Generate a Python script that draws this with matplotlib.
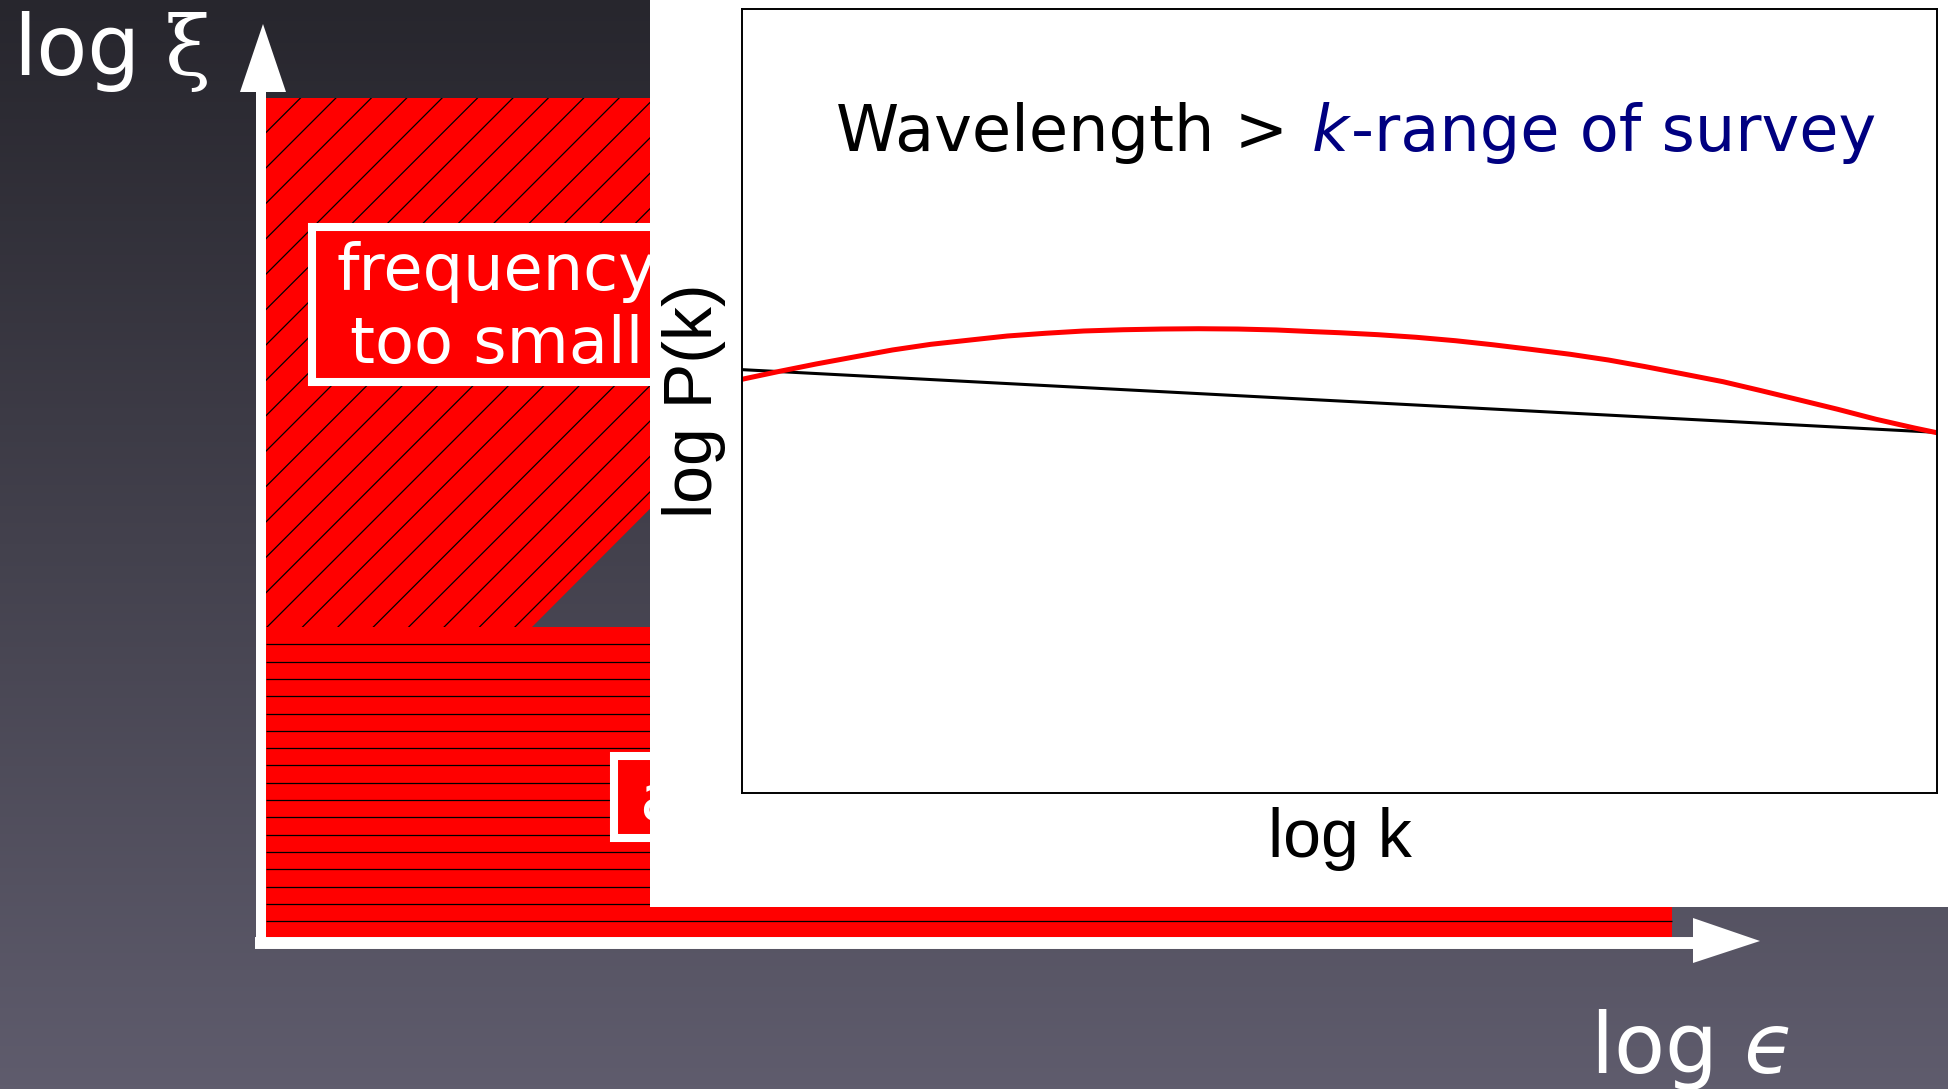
import numpy as np
import matplotlib
matplotlib.use("Agg")
import matplotlib.pyplot as plt
from matplotlib.colors import LinearSegmentedColormap
from matplotlib.patches import Polygon, Rectangle

# inset: toy power spectra, log-log, arbitrary units (no ticks in the original)
logk = [0.0, 0.030, 0.062, 0.095, 0.126, 0.158, 0.191, 0.222, 0.254, 0.286,
        0.319, 0.351, 0.382, 0.415, 0.447, 0.479, 0.500, 0.532, 0.564, 0.597,
        0.628, 0.660, 0.693, 0.725, 0.756, 0.788, 0.821, 0.853, 0.885, 0.917,
        0.949, 0.981, 1.0]
logP_model = [0.5277, 0.5374, 0.5472, 0.5565, 0.5651, 0.5723, 0.5778, 0.5829,
              0.5864, 0.5893, 0.5909, 0.5918, 0.5922, 0.5918, 0.5906, 0.5884,
              0.5871, 0.5846, 0.5813, 0.5769, 0.5718, 0.5659, 0.5596, 0.5523,
              0.5438, 0.5344, 0.5246, 0.5131, 0.5013, 0.4894, 0.4767, 0.4656,
              0.4595]
logk_pl = [0.0, 1.0]
logP_pl = [0.540, 0.460]

# excluded regions of the (log eps, log xi) plane, in canvas units (y down)
freq_region = [(266, 98), (1060, 98), (532, 627), (266, 627)]
amp_region = [(266, 627), (1672, 627), (1672, 937), (266, 937)]
freq_label = ["frequency", "too small"]
amp_label = "amplitude too small"

W, H = 1948, 1089
fig = plt.figure(figsize=(W / 100, H / 100), dpi=100)
ax = fig.add_axes([0, 0, 1, 1])

bg = LinearSegmentedColormap.from_list("bg", ["#27262d", "#5f5c6d"])
ax.imshow(np.linspace(0, 1, 256)[:, None], cmap=bg, aspect="auto",
          extent=(0, W, H, 0), zorder=0)
ax.set_xlim(0, W)
ax.set_ylim(H, 0)
ax.axis("off")

# axes arrows
ax.plot([261, 261], [943, 90], color="white", lw=7.2, solid_capstyle="butt", zorder=1)
ax.plot([255, 1695], [943, 943], color="white", lw=8.6, solid_capstyle="butt", zorder=1)
ax.fill([240, 263, 286], [92, 24, 92], color="white", lw=0, zorder=1)
ax.fill([1693, 1760, 1693], [918, 941, 963], color="white", lw=0, zorder=1)

# frequency region, "/" hatched
p1 = Polygon(freq_region, closed=True, facecolor="#ff0000", edgecolor="none", zorder=2)
ax.add_patch(p1)
for c in np.arange(398.5 - 35.4 * 12, 1900, 35.4):
    ln, = ax.plot([c - 800, c], [800, 0], color="black", lw=0.9, zorder=2.1)
    ln.set_clip_path(p1)

# amplitude region, "-" hatched
p2 = Polygon(amp_region, closed=True, facecolor="#ff0000", edgecolor="none", zorder=2)
ax.add_patch(p2)
ax.hlines(627 + 17.31 * np.arange(1, 18), 266, 1672, color="black", lw=0.9, zorder=2.1)

# labels of regions
ax.add_patch(Rectangle((312, 227), 370, 155, facecolor="#ff0000", edgecolor="white",
                       lw=5.8, zorder=3))
ax.text(497, 290, freq_label[0], color="white", fontsize=46, ha="center", va="baseline", zorder=4)
ax.text(497, 363, freq_label[1], color="white", fontsize=46, ha="center", va="baseline", zorder=4)
ax.add_patch(Rectangle((613.5, 756), 560, 82, facecolor="#ff0000", edgecolor="white",
                       lw=5.8, zorder=3))
ax.text(640, 820, amp_label, color="white", fontsize=46, ha="left", va="baseline", zorder=4)

# axis names
ax.text(13, 75, "log", color="white", fontsize=60, va="baseline")
ax.text(165, 75, "\u03be", color="white", fontsize=60, va="baseline", family="DejaVu Serif")
ax.text(1590, 1073, "log $\u03f5$", color="white", fontsize=60, va="baseline")

# white panel behind the inset
ax.add_patch(Rectangle((650, 0), W - 650, 907, facecolor="white", edgecolor="none", zorder=5))

ins = fig.add_axes([742 / W, 1 - 793 / H, 1195 / W, 784 / H])
ins.plot(logk_pl, logP_pl, color="black", lw=2.2)
ins.plot(logk, logP_model, color="#ff0000", lw=3.6)
ins.set_xlim(0, 1)
ins.set_ylim(0, 1)
ins.set_xticks([])
ins.set_yticks([])
for s in ins.spines.values():
    s.set_linewidth(1.4)
ins.set_xlabel("log k", fontsize=49, family="Liberation Sans")
ins.xaxis.set_label_coords(0.5, -0.0179)
ins.set_ylabel("log P(k)", fontsize=49, family="Liberation Sans")
ins.yaxis.set_label_coords(-0.0138, 0.5)

t1 = ins.text(0.0787, 0.819, "Wavelength >", fontsize=46, color="black",
              va="baseline", transform=ins.transAxes)
t2 = ins.annotate("k", xy=(1, 0), xycoords=t1, xytext=(17, 0), textcoords="offset points",
                  fontsize=46, style="italic", color="#000080", va="bottom")
t3 = ins.annotate("-range of survey", xy=(1, 0), xycoords=t2, xytext=(1.5, 0),
                  textcoords="offset points", fontsize=46, color="#000080", va="bottom")

plt.savefig("out.png", dpi=100)
plt.close()
